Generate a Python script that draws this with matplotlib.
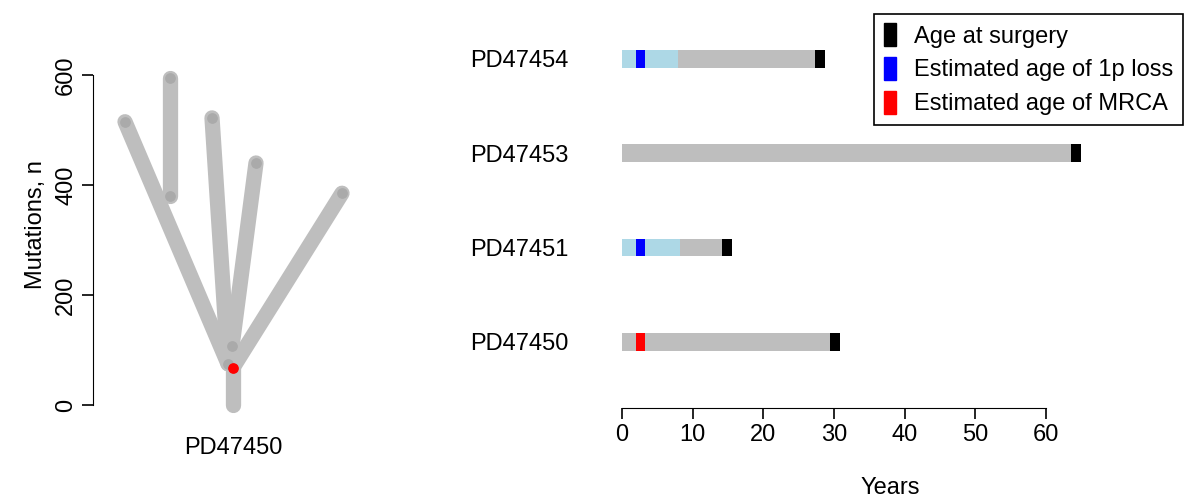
import matplotlib
matplotlib.use("Agg")
import matplotlib.pyplot as plt
from matplotlib.patches import Patch

plt.rcParams['font.family'] = ['Liberation Sans', 'DejaVu Sans']

# tree: segments (x0, y0, x1, y1) in layout x units / mutations
tree_segments = [
    (233, 0, 233, 68),
    (228, 75, 125, 515),
    (170, 380, 170, 595),
    (228, 75, 212, 522),
    (232, 107, 256, 440),
    (233, 68, 342, 385),
]
tree_nodes_x = [125, 170, 170, 212, 256, 342, 228, 232]
tree_nodes_y = [515, 595, 380, 522, 440, 385, 75, 107]
mrca_x, mrca_y = 233, 68

samples = ["PD47450", "PD47451", "PD47453", "PD47454"]
age_surgery = [30.8, 15.6, 64.9, 28.7]
loss_1p_start = [None, 2.0, None, 2.0]
loss_1p_end = [None, 3.3, None, 3.3]
loss_1p_ci = [None, 8.2, None, 7.9]
mrca_start = [2.0, None, None, None]
mrca_end = [3.3, None, None, None]

GREY = "#BEBEBE"
FS = 17
fig = plt.figure(figsize=(12, 4.95), dpi=100)

# left panel: phylogeny
ax1 = fig.add_axes([0, 65 / 495, 370 / 1200, 410 / 495])
for x0, y0, x1, y1 in tree_segments:
    ax1.plot([x0, x1], [y0, y1], color=GREY, lw=11, solid_capstyle='round', zorder=1)
ax1.scatter(tree_nodes_x, tree_nodes_y, s=45, color="#AAAAAA", zorder=2)
ax1.scatter([mrca_x], [mrca_y], s=45, color="red", zorder=3)
ax1.set_xlim(0, 370)
ax1.set_ylim(-45.5, 700)
for s in ["top", "right", "bottom"]:
    ax1.spines[s].set_visible(False)
ax1.spines["left"].set_position(("data", 93))
ax1.spines["left"].set_bounds(0, 600)
ax1.set_yticks([0, 200, 400, 600])
ax1.tick_params(axis='y', labelsize=FS, length=8, width=1.2)
for lab in ax1.get_yticklabels():
    lab.set_rotation(90)
    lab.set_va('center')
ax1.set_xticks([])
ax1.set_ylabel("Mutations, n", fontsize=FS, labelpad=6)
ax1.text(233, -78, "PD47450", ha='center', va='center', fontsize=FS)

# right panel: timelines
ax2 = fig.add_axes([580 / 1200, 87 / 495, 620 / 1200, 388 / 495])
h = 0.19
for i, name in enumerate(samples):
    ax2.barh(i, age_surgery[i] - 1.4, height=h, color=GREY, left=0)
    if loss_1p_ci[i] is not None:
        ax2.barh(i, loss_1p_ci[i], height=h, color="#ADD8E6", left=0)
        ax2.barh(i, loss_1p_end[i] - loss_1p_start[i], height=h, color="blue", left=loss_1p_start[i])
    if mrca_start[i] is not None:
        ax2.barh(i, mrca_end[i] - mrca_start[i], height=h, color="red", left=mrca_start[i])
    ax2.barh(i, 1.4, height=h, color="black", left=age_surgery[i] - 1.4)
ax2.set_xlim(-5.94, 81.8)
ax2.set_ylim(-0.7, 3.41)
ax2.set_yticks(range(len(samples)))
ax2.set_yticklabels(samples, fontsize=FS)
ax2.tick_params(axis='y', length=0, pad=8)
ax2.set_xticks(range(0, 61, 10))
ax2.tick_params(axis='x', labelsize=FS, length=8, width=1.2)
for s in ["top", "right", "left"]:
    ax2.spines[s].set_visible(False)
ax2.spines["bottom"].set_bounds(0, 60)
ax2.set_xlabel("Years", fontsize=FS, labelpad=22)

handles = [Patch(color="black"), Patch(color="blue"), Patch(color="red")]
leg = ax2.legend(handles, ["Age at surgery", "Estimated age of 1p loss", "Estimated age of MRCA"],
                 loc='upper right', bbox_to_anchor=(1195 / 1200, 493 / 495),
                 bbox_transform=fig.transFigure, fontsize=FS, handlelength=0.5, handleheight=1.1,
                 fancybox=False, framealpha=1, edgecolor='black', borderpad=0.4, labelspacing=0.4)
leg.get_frame().set_linewidth(1.2)

fig.savefig("out.png", dpi=100)
